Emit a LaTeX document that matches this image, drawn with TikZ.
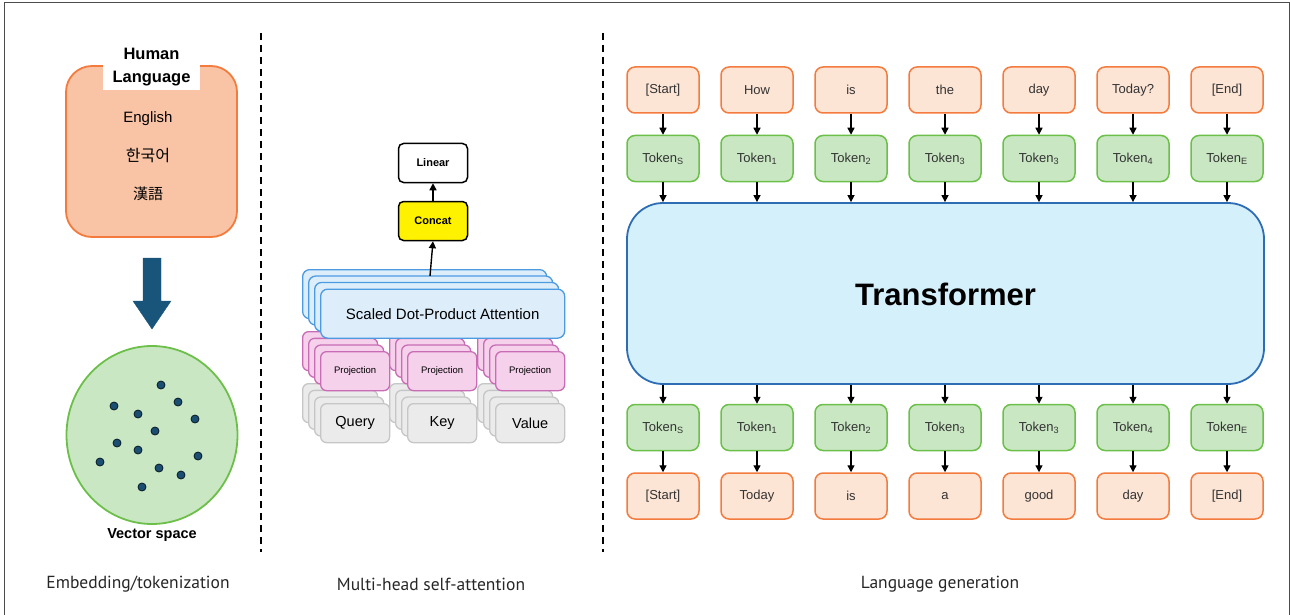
\documentclass[tikz,border=0pt]{standalone}
\usepackage{fontspec}
\setmainfont{Liberation Sans}
\newfontfamily\capfont{PT Sans}
\newfontfamily\krfont{Noto Sans CJK KR}
\usetikzlibrary{arrows.meta,shapes.geometric}
\definecolor{orB}{HTML}{F47B3E}
\definecolor{orF}{HTML}{FDE5D6}
\definecolor{orF2}{HTML}{F9C4A5}
\definecolor{grB}{HTML}{6CC04A}
\definecolor{grF}{HTML}{C9E7C3}
\definecolor{trF}{HTML}{D3F0FB}
\definecolor{trB}{HTML}{2E6DB4}
\definecolor{blF}{HTML}{DDEEFA}
\definecolor{blB}{HTML}{4C9BE0}
\definecolor{piF}{HTML}{F5D1EC}
\definecolor{piB}{HTML}{C86DB5}
\definecolor{gyF}{HTML}{EBEBEB}
\definecolor{gyB}{HTML}{C6C6C6}
\definecolor{teal}{HTML}{19557A}
\definecolor{dotc}{HTML}{1B4F72}
\tikzset{
  tokbox/.style={draw=orB, fill=orF, line width=1.5pt, rounded corners=8pt, minimum width=72pt, minimum height=46pt, font=\fontsize{13}{15}\selectfont, text=black!80},
  grbox/.style={draw=grB, fill=grF, line width=1.5pt, rounded corners=8pt, minimum width=72pt, minimum height=46pt, font=\fontsize{13}{15}\selectfont, text=black!80},
  arr/.style={-{Triangle[length=7pt,width=7pt]}, line width=1.4pt},
  attbox/.style={draw=blB, fill=blF, line width=1.3pt, rounded corners=7pt, minimum width=244pt, minimum height=49pt, anchor=north west, inner sep=0pt},
  projbox/.style={draw=piB, fill=piF, line width=1.3pt, rounded corners=6pt, minimum width=69pt, minimum height=39pt, anchor=north west, inner sep=0pt},
  inbox/.style={draw=gyB, fill=gyF, line width=1.3pt, rounded corners=6pt, minimum width=69pt, minimum height=39pt, anchor=north west, inner sep=0pt},
  smallbox/.style={draw=black, line width=1.5pt, rounded corners=5pt, minimum width=69pt, minimum height=39pt, font=\bfseries\fontsize{11}{13}\selectfont},
  divider/.style={dashed, dash pattern=on 7pt off 5pt, line width=1.4pt},
  caption/.style={font=\capfont\fontsize{17.5}{20}\selectfont, text=black!85},
  vdot/.style={circle, fill=dotc, draw=black!70!dotc, line width=0.8pt, inner sep=0pt, minimum size=8pt}
}
\begin{document}
\begin{tikzpicture}[x=1pt,y=-1pt]
\useasboundingbox (0,0) rectangle (1290,615);
% outer frame
\draw[black!70, line width=1pt] (4,615) -- (4,3) -- (1289,3) -- (1289,615);
% dividers
\coordinate (d1a) at (261,33); \coordinate (d1b) at (261,552);
\coordinate (d2a) at (603,33); \coordinate (d2b) at (603,552);
\draw[divider] (d1a) -- (d1b);
\draw[divider] (d2a) -- (d2b);

% ---------- left panel ----------
\node[draw=orB, fill=orF2, line width=1.8pt, rounded corners=26pt, minimum width=171pt, minimum height=171pt] (hl) at (151.5,151.5) {};
\node[fill=white, minimum width=97pt, minimum height=46pt, align=center, inner sep=0pt, font=\bfseries\fontsize{16.5}{23}\selectfont] (hlt) at (151.5,67) {Human\\Language};
\node[font=\fontsize{15}{18}\selectfont] (en) at (148,119) {English};
\node[font=\krfont\fontsize{16}{18}\selectfont] (ko) at (148,156) {한국어};
\node[font=\krfont\fontsize{15}{18}\selectfont] (zh) at (148,194) {漢語};
% big arrow
\draw[fill=teal, draw=teal] (143,258) -- (161,258) -- (161,301) -- (171,301) -- (152,329) -- (133,301) -- (143,301) -- cycle;
% vector space
\node[draw=grB, fill=grF, line width=1.8pt, ellipse, minimum width=171pt, minimum height=178pt, inner sep=0pt] (vs) at (152,435) {};
\foreach \x/\y [count=\i] in {161/385,114/406,178/402,138/414,195/419,155/431,117/443,138/450,100/462,198/456,159/468,181/475,142/487}
  \node[vdot] (dot\i) at (\x,\y) {};
\node[font=\bfseries\fontsize{14.5}{16}\selectfont] (vst) at (152,535) {Vector space};
\node[caption] (cap1) at (138,584) {Embedding/tokenization};

% ---------- middle panel ----------
\foreach \gx/\lab [count=\g] in {320/Query,407/Key,495/Value}{
  \foreach \i in {0,1,2} \node[inbox] (in\g\i) at ({\gx-18+6*\i},{383+6.7*\i}) {};
  \node[inbox, font=\fontsize{14.5}{16}\selectfont] (in\g) at (\gx,403) {\lab};
}
\foreach \gx [count=\g] in {320,407,495}{
  \foreach \i in {0,1,2} \node[projbox] (pr\g\i) at ({\gx-18+6*\i},{331+6.7*\i}) {};
  \node[projbox, font=\fontsize{9.5}{11}\selectfont] (pr\g) at (\gx,351) {Projection};
}
\foreach \i in {0,1,2} \node[attbox] (att\i) at ({302+6*\i},{269+6.4*\i}) {};
\node[attbox, font=\fontsize{15}{18}\selectfont] (att) at (320,288.5) {Scaled Dot-Product Attention};
\node[smallbox, fill=white] (lin) at (433,163) {Linear};
\node[smallbox, fill=yellow] (cat) at (433,221) {Concat};
\coordinate (attout) at (430,276);
\draw[arr] (attout) -- (cat.south);
\draw[arr] (cat) -- (lin);
\node[caption] (cap2) at (431,584) {Multi-head self-attention};

% ---------- right panel ----------
\node[draw=trB, fill=trF, line width=1.8pt, rounded corners=36pt, minimum width=637pt, minimum height=181pt] (tr) at (945.5,293.5) {};
\node[font=\bfseries\fontsize{31}{34}\selectfont] (trt) at (945.5,294) {Transformer};
\foreach \top/\tk/\bot [count=\c] in {[Start]/S/[Start], How/1/Today, is/2/is, the/3/a, day/3/good, Today?/4/day, [End]/E/[End]}{
  \pgfmathsetmacro\cx{663+94*(\c-1)}
  \node[tokbox] (ti\c) at (\cx,90) {\top};
  \node[grbox] (gi\c) at (\cx,158.5) {Token\textsubscript{\tk}};
  \node[grbox] (go\c) at (\cx,427.5) {Token\textsubscript{\tk}};
  \node[tokbox] (to\c) at (\cx,496) {\bot};
  \draw[arr] (ti\c) -- (gi\c);
  \draw[arr] (gi\c.south) -- (gi\c.south |- tr.north);
  \draw[arr] (go\c.north |- tr.south) -- (go\c.north);
  \draw[arr] (go\c) -- (to\c);
}
\node[caption] (cap3) at (940,584) {Language generation};
\end{tikzpicture}
\end{document}
